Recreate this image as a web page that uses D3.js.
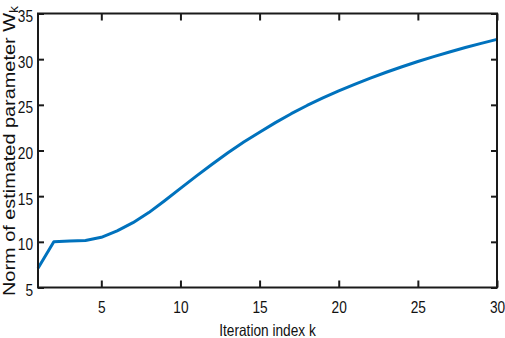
<!DOCTYPE html>
<html>
<head>
<meta charset="utf-8">
<script src="https://cdn.jsdelivr.net/npm/d3@7"></script>
<style>
  html, body { margin: 0; padding: 0; background: #fff; }
  svg { display: block; }
  text { font-family: "Liberation Sans", Arial, sans-serif; fill: #111; }
</style>
</head>
<body>
<svg id="chart" width="505" height="338"></svg>
<script>
// ---- data ----
const iterations = d3.range(1, 31);
const normValues = [7.1, 10.0, 10.1, 10.15, 10.5, 11.2, 12.1, 13.2, 14.5, 15.85,
                    17.2, 18.5, 19.75, 20.92, 22.0, 23.05, 24.03, 24.93, 25.76, 26.53,
                    27.25, 27.93, 28.57, 29.17, 29.74, 30.28, 30.79, 31.27, 31.73, 32.17];
const xTicks = [5, 10, 15, 20, 25, 30];
const yTicks = [5, 10, 15, 20, 25, 30, 35];
const xLabel = "Iteration index k";
const yLabel = "Norm of estimated parameter W";
const ySub = "k";

// ---- layout ----
const W = 505, H = 338;
const margin = { left: 38, top: 13.5, right: 8, bottom: 50.5 };
const iw = W - margin.left - margin.right;
const ih = H - margin.top - margin.bottom;
const squeeze = 0.84;

const svg = d3.select("#chart");
const g = svg.append("g").attr("transform", `translate(${margin.left},${margin.top})`);

const x = d3.scaleLinear().domain([1, 30]).range([0, iw]);
const y = d3.scaleLinear().domain([5, 35]).range([ih, 0]);

// line
const line = d3.line().x((d, i) => x(iterations[i])).y(d => y(d));
g.append("path")
  .datum(normValues)
  .attr("fill", "none")
  .attr("stroke", "#0072BD")
  .attr("stroke-width", 3)
  .attr("stroke-linejoin", "round")
  .attr("d", line);

// axes
function styleAxis(sel) {
  sel.select(".domain").remove();
  sel.selectAll(".tick line").attr("stroke", "#1a1a1a").attr("stroke-width", 2);
}

const fontSize = 16.3;

const xAxis = g.append("g").attr("transform", `translate(0,${ih})`)
  .call(d3.axisBottom(x).tickValues(xTicks).tickSize(-7).tickPadding(0).tickFormat(d3.format("d")));
styleAxis(xAxis);
xAxis.selectAll(".tick text")
  .attr("font-size", fontSize)
  .attr("y", 0).attr("dy", 26)
  .attr("fill", "#111")
  .attr("transform", `scale(${squeeze},1)`);

const xTop = g.append("g")
  .call(d3.axisTop(x).tickValues(xTicks).tickSize(-7).tickFormat(""));
styleAxis(xTop);

const yAxis = g.append("g")
  .call(d3.axisLeft(y).tickValues(yTicks).tickSize(-6).tickPadding(0).tickFormat(d3.format("d")));
styleAxis(yAxis);
yAxis.selectAll(".tick text")
  .attr("font-size", fontSize)
  .attr("x", -5 / squeeze).attr("dy", "0.5em")
  .attr("fill", "#111")
  .attr("transform", `scale(${squeeze},1)`);

const yRight = g.append("g").attr("transform", `translate(${iw},0)`)
  .call(d3.axisRight(y).tickValues(yTicks).tickSize(-6).tickFormat(""));
styleAxis(yRight);

// frame
g.append("rect")
  .attr("x", 0).attr("y", 0).attr("width", iw).attr("height", ih)
  .attr("fill", "none").attr("stroke", "#1a1a1a").attr("stroke-width", 2);

// x label
svg.append("text")
  .attr("transform", `translate(${margin.left + iw / 2},335.5) scale(${squeeze},1)`)
  .attr("text-anchor", "middle")
  .attr("font-size", fontSize)
  .text(xLabel);

// y label
const yl = svg.append("text")
  .attr("transform", `translate(14.5,296) scale(0.86,1) rotate(-90)`)
  .attr("text-anchor", "start")
  .attr("font-size", 19.9);
yl.append("tspan").text(yLabel);
yl.append("tspan").attr("font-size", 14).attr("dy", 4.5).text(ySub);
</script>
</body>
</html>
